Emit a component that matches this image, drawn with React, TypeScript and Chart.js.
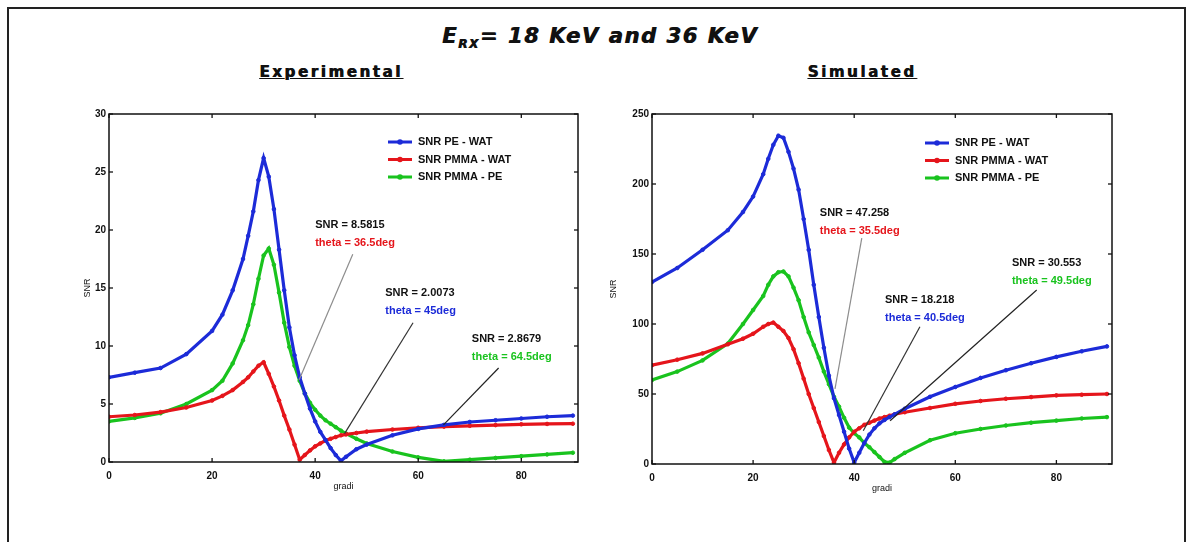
import React, { useEffect, useRef } from "react";
import { Chart, registerables } from "chart.js";

Chart.register(...registerables);

// ---------- shared ----------
const seriesNames = ["SNR PE - WAT", "SNR PMMA - WAT", "SNR PMMA - PE"];
const seriesColors = ["#1c2bd8", "#e5151b", "#19c31e"];
const xTickValues = [0, 20, 40, 60, 80];

// ---------- Experimental ----------
const expAngles = [0, 5, 10, 15, 20, 22, 24, 26, 27, 28, 29, 30, 31, 32, 33, 34, 35, 36, 37, 38, 39, 40, 41, 42, 43, 44, 45, 46, 48, 50, 55, 60, 65, 70, 75, 80, 85, 90];
const expPeWat = [7.3, 7.7, 8.1, 9.3, 11.3, 12.7, 14.8, 17.5, 19.5, 21.6, 24.3, 26.2, 24.6, 21.8, 18.3, 14.8, 11.6, 9.2, 7.3, 5.9, 4.6, 3.5, 2.6, 1.9, 1.2, 0.6, 0.1, 0.45, 1.1, 1.5, 2.3, 2.85, 3.2, 3.45, 3.6, 3.75, 3.9, 4.0];
const expPmmaWat = [3.9, 4.05, 4.3, 4.7, 5.3, 5.7, 6.2, 6.9, 7.3, 7.8, 8.3, 8.6, 7.6, 6.5, 5.3, 4.0, 2.8, 1.5, 0.2, 0.6, 1.0, 1.35, 1.6, 1.85, 2.0, 2.15, 2.3, 2.38, 2.5, 2.62, 2.8, 2.95, 3.05, 3.12, 3.18, 3.25, 3.28, 3.3];
const expPmmaPe = [3.5, 3.8, 4.2, 5.0, 6.2, 7.0, 8.5, 10.5, 11.8, 13.6, 15.8, 17.8, 18.4, 17.0, 14.6, 12.0, 9.9, 8.3, 7.0, 5.9, 5.1, 4.5, 4.0, 3.6, 3.3, 3.0, 2.7, 2.45, 2.0, 1.6, 0.9, 0.4, 0.05, 0.2, 0.35, 0.5, 0.65, 0.8];
const expYMax = 30;
const expYStep = 5;

// ---------- Simulated ----------
const simAngles = [0, 5, 10, 15, 18, 20, 22, 23, 24, 25, 26, 27, 28, 29, 30, 31, 32, 33, 34, 35, 36, 37, 38, 39, 40, 41, 42, 43, 44, 45, 46, 47, 48, 50, 55, 60, 65, 70, 75, 80, 85, 90];
const simPeWat = [130, 140, 153, 167, 180, 191, 207, 218, 228, 234.5, 233, 223, 211, 196, 175, 153, 128, 105, 83, 63, 47, 35, 23, 11, 1, 8, 15, 21, 25.5, 29, 31.5, 33.5, 35.5, 39.5, 48, 55, 61.5, 67, 72, 76.5, 80.5, 84];
const simPmmaWat = [70.6, 74.5, 79, 85.5, 89.5, 93, 98, 100, 101, 98, 95, 90, 82, 72, 61, 50, 40, 30, 20, 10, 1, 8, 14, 19, 23, 25.5, 28, 29.5, 31, 32.5, 33.5, 34.5, 35.5, 37, 40, 43, 45, 46.6, 47.8, 49, 49.5, 50];
const simPmmaPe = [60, 66, 74, 86, 100, 110, 120, 128, 134, 137, 137.5, 134, 126, 117, 105, 94, 85, 76, 66, 57, 48, 41, 33, 26, 22, 19, 15, 12, 8.5, 5, 1.5, 1, 3.5, 8, 17, 22, 25, 27.5, 29.5, 31, 32.5, 33.5];
const simYMax = 250;
const simYStep = 50;

// ---------- annotations (data units) ----------
const expNotes = [
  { snr: "SNR = 8.5815", theta: "theta = 36.5deg", color: seriesColors[1], at: [40.0, 20.4], from: [47.3, 17.9], to: [36.9, 7.1], line: "#8d8d8d" },
  { snr: "SNR = 2.0073", theta: "theta = 45deg", color: seriesColors[0], at: [53.6, 14.6], from: [59.0, 12.0], to: [45.7, 2.45], line: "#333333" },
  { snr: "SNR = 2.8679", theta: "theta = 64.5deg", color: seriesColors[2], at: [70.4, 10.6], from: [75.6, 8.1], to: [64.9, 3.2], line: "#222222" },
];
const simNotes = [
  { snr: "SNR = 47.258", theta: "theta = 35.5deg", color: seriesColors[1], at: [33.2, 179.4], from: [41.5, 161.4], to: [36.2, 53.7], line: "#8d8d8d" },
  { snr: "SNR = 18.218", theta: "theta = 40.5deg", color: seriesColors[0], at: [46.1, 117], from: [53.0, 98], to: [41.8, 23.7], line: "#333333" },
  { snr: "SNR = 30.553", theta: "theta = 49.5deg", color: seriesColors[2], at: [71.2, 143.5], from: [76.1, 124.3], to: [47.1, 30.9], line: "#222222" },
];

const FONT = '"Liberation Sans", Arial, sans-serif';

function makePlugin(notes: any[], legendDx: number, legendDy: number) {
  return {
    id: "matlabFrame",
    afterDatasetsDraw(chart: any) {
      const { ctx, chartArea: a, scales } = chart;
      const xs = scales.x;
      const ys = scales.y;
      const seg = (x1: number, y1: number, x2: number, y2: number) => {
        ctx.beginPath();
        ctx.moveTo(x1, y1);
        ctx.lineTo(x2, y2);
        ctx.stroke();
      };
      ctx.save();
      // frame
      ctx.strokeStyle = "#111";
      ctx.lineWidth = 1.5;
      ctx.strokeRect(a.left, a.top, a.right - a.left, a.bottom - a.top);
      // inward ticks on all four sides
      ctx.lineWidth = 1.3;
      xs.ticks.forEach((t: any) => {
        const px = xs.getPixelForValue(t.value);
        seg(px, a.bottom, px, a.bottom - 4);
        seg(px, a.top, px, a.top + 4);
      });
      ys.ticks.forEach((t: any) => {
        const py = ys.getPixelForValue(t.value);
        seg(a.left, py, a.left + 4, py);
        seg(a.right, py, a.right - 4, py);
      });
      // annotations
      notes.forEach((n) => {
        ctx.strokeStyle = n.line;
        ctx.lineWidth = 1.2;
        seg(
          xs.getPixelForValue(n.from[0]), ys.getPixelForValue(n.from[1]),
          xs.getPixelForValue(n.to[0]), ys.getPixelForValue(n.to[1])
        );
        const tx = xs.getPixelForValue(n.at[0]);
        const ty = ys.getPixelForValue(n.at[1]);
        ctx.font = `bold 11px ${FONT}`;
        ctx.textAlign = "left";
        ctx.textBaseline = "middle";
        ctx.fillStyle = "#111";
        ctx.fillText(n.snr, tx, ty);
        ctx.fillStyle = n.color;
        ctx.fillText(n.theta, tx, ty + 18);
      });
      // legend
      const lx = a.left + legendDx;
      seriesNames.forEach((name, i) => {
        const ly = a.top + legendDy + i * 17.5;
        ctx.strokeStyle = seriesColors[i];
        ctx.fillStyle = seriesColors[i];
        ctx.lineWidth = 3;
        seg(lx, ly, lx + 24, ly);
        ctx.beginPath();
        ctx.arc(lx + 12, ly, 2.8, 0, Math.PI * 2);
        ctx.fill();
        ctx.font = `bold 11px ${FONT}`;
        ctx.textAlign = "left";
        ctx.textBaseline = "middle";
        ctx.fillStyle = "#111";
        ctx.fillText(name, lx + 30, ly);
      });
      ctx.restore();
    },
  };
}

function buildConfig(angles: number[], series: number[][], yMax: number, yStep: number, notes: any[], ldx: number, ldy: number, titlePad: number) {
  return {
    type: "line" as const,
    data: {
      datasets: series.map((vals, i) => ({
        label: seriesNames[i],
        data: angles.map((x, j) => ({ x, y: vals[j] })),
        borderColor: seriesColors[i],
        backgroundColor: seriesColors[i],
        borderWidth: 3.2,
        pointRadius: 1.8,
        pointBorderWidth: 1,
        pointBackgroundColor: seriesColors[i],
        pointBorderColor: seriesColors[i],
        tension: 0,
        fill: false,
      })),
    },
    options: {
      responsive: false,
      animation: false,
      events: [],
      layout: { padding: { left: 0, right: 12, top: 14, bottom: 0 } },
      plugins: { legend: { display: false }, tooltip: { enabled: false }, title: { display: false } },
      scales: {
        x: {
          type: "linear",
          min: 0,
          max: 91,
          afterBuildTicks: (s: any) => {
            s.ticks = xTickValues.map((v) => ({ value: v }));
          },
          afterFit: (s: any) => {
            s.height = 30;
          },
          grid: { display: false, drawTicks: false },
          border: { display: false },
          ticks: { color: "#111", padding: 8, maxRotation: 0, font: { family: FONT, size: 10, weight: "bold" } },
          title: { display: true, text: "gradi", color: "#111", padding: { top: 0, bottom: 0 }, font: { family: FONT, size: 9 } },
        },
        y: {
          type: "linear",
          min: 0,
          max: yMax,
          ticks: { stepSize: yStep, color: "#111", padding: 3, font: { family: FONT, size: 10, weight: "bold" } },
          afterFit: (s: any) => {
            s.width = 49;
          },
          grid: { display: false, drawTicks: false },
          border: { display: false },
          title: { display: true, text: "SNR", color: "#111", padding: { top: titlePad, bottom: 0 }, font: { family: FONT, size: 9 } },
        },
      },
    },
    plugins: [makePlugin(notes, ldx, ldy)],
  };
}

function ChartCanvas(props: { left: number; top: number; width: number; height: number; config: any }) {
  const ref = useRef<HTMLCanvasElement | null>(null);
  useEffect(() => {
    if (!ref.current) return;
    const chart = new Chart(ref.current, props.config);
    return () => chart.destroy();
  }, []);
  return (
    <canvas
      ref={ref}
      width={props.width}
      height={props.height}
      style={{ position: "absolute", left: props.left, top: props.top, width: props.width, height: props.height }}
    />
  );
}

const headingStyle: any = {
  position: "absolute", top: 62, width: 300, textAlign: "center",
  fontFamily: '"DejaVu Sans", sans-serif', fontWeight: "bold", fontSize: 15,
  letterSpacing: 2.6, textDecoration: "underline", color: "#111", lineHeight: "20px",
  textShadow: "0.7px 0 0 #111",
};

export default function App() {
  const expConfig = buildConfig(expAngles, [expPeWat, expPmmaWat, expPmmaPe], expYMax, expYStep, expNotes, 279, 28, 22);
  const simConfig = buildConfig(simAngles, [simPeWat, simPmmaWat, simPmmaPe], simYMax, simYStep, simNotes, 273, 29, 5);
  return (
    <div style={{ position: "absolute", left: 0, top: 0, width: 1191, height: 542, overflow: "hidden", background: "#fff" }}>
      <div style={{ position: "absolute", left: 7, top: 7, width: 1179, height: 560, border: "2px solid #222", boxSizing: "border-box" }} />
      <div
        style={{
          position: "absolute", left: 300, top: 24, width: 600, textAlign: "center",
          fontFamily: '"DejaVu Sans", sans-serif', fontWeight: "bold", fontStyle: "italic",
          fontSize: 21, letterSpacing: 1.6, color: "#111", lineHeight: "24px",
          textShadow: "0.8px 0 0 #111",
        }}
      >
        E<sub style={{ fontSize: 12, verticalAlign: "-5px" }}>RX</sub>= 18 KeV and 36 KeV
      </div>
      <div style={{ ...headingStyle, left: 181 }}>Experimental</div>
      <div style={{ ...headingStyle, left: 712 }}>Simulated</div>
      <ChartCanvas left={60} top={100} width={530} height={392} config={expConfig} />
      <ChartCanvas left={603} top={100} width={521} height={394} config={simConfig} />
    </div>
  );
}
